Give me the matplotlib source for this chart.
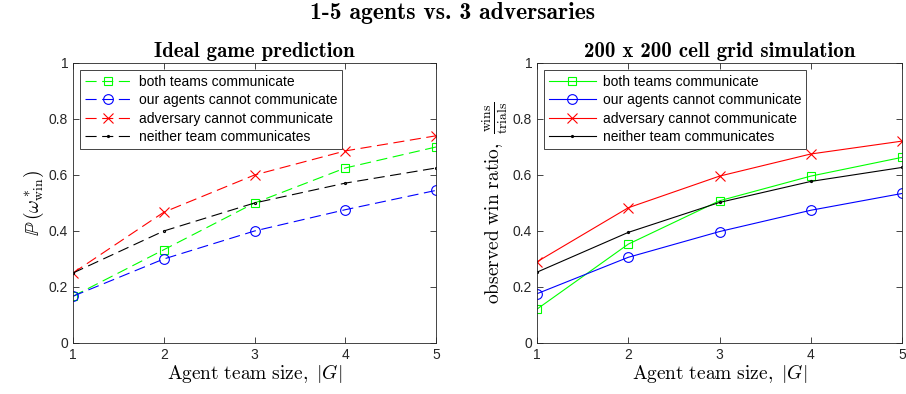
import os
import matplotlib
matplotlib.use("Agg")
import matplotlib.pyplot as plt
from matplotlib.font_manager import FontProperties

plt.rcParams['mathtext.fontset'] = 'cm'
plt.rcParams['font.family'] = ['Liberation Sans', 'DejaVu Sans']

# bold computer modern for the titles
cmb = os.path.join(matplotlib.get_data_path(), 'fonts', 'ttf', 'cmb10.ttf')

# %% data
team_size = [1, 2, 3, 4, 5]
labels = ['both teams communicate', 'our agents cannot communicate',
          'adversary cannot communicate', 'neither team communicates']

# ideal game prediction
pred_both = [0.167, 0.333, 0.500, 0.625, 0.700]
pred_ours = [0.167, 0.300, 0.400, 0.476, 0.545]
pred_adv = [0.250, 0.467, 0.600, 0.686, 0.740]
pred_neither = [0.250, 0.400, 0.500, 0.571, 0.625]

# grid simulation
sim_both = [0.121, 0.353, 0.508, 0.596, 0.663]
sim_ours = [0.176, 0.306, 0.398, 0.474, 0.534]
sim_adv = [0.290, 0.483, 0.596, 0.675, 0.721]
sim_neither = [0.253, 0.395, 0.502, 0.577, 0.627]

colors = ['#00ff00', '#0000ff', '#ff0000', '#000000']
markers = ['s', 'o', 'x', '.']
msizes = [5.5, 7, 7.5, 3]


def draw(ax, series, dashed, title, ylabel):
    for y, c, m, ms, lab in zip(series, colors, markers, msizes, labels):
        line, = ax.plot(team_size, y, color=c, marker=m, ms=ms, lw=0.8,
                        mfc='none', mew=0.8, label=lab)
        if dashed:
            line.set_dashes((10, 5))
    ax.set_xlim(1, 5)
    ax.set_ylim(0, 1)
    ax.set_xticks(team_size)
    ax.set_yticks([0, 0.2, 0.4, 0.6, 0.8, 1])
    ax.set_yticklabels(['0', '0.2', '0.4', '0.6', '0.8', '1'])
    ax.tick_params(direction='in', top=True, right=True, length=4,
                   labelsize=10, colors='#262626', width=0.6)
    for sp in ax.spines.values():
        sp.set_linewidth(0.6)
        sp.set_color('#262626')
    ax.set_title(title, fontproperties=FontProperties(fname=cmb, size=15), pad=4)
    ax.set_xlabel(r'$\mathrm{Agent\ team\ size,}\ |G|$', fontsize=14, labelpad=0)
    ax.set_ylabel(ylabel, fontsize=14, labelpad=2)
    leg = ax.legend(loc='upper left', fontsize=10, handlelength=3.4,
                    fancybox=False, framealpha=1, edgecolor='#262626',
                    borderpad=0.35, labelspacing=0.32, borderaxespad=0.5,
                    handletextpad=0.5)
    leg.get_frame().set_linewidth(0.6)


fig = plt.figure(figsize=(9.06, 3.94), dpi=100)
ax1 = fig.add_axes([73 / 906, 1 - 343 / 394, 363 / 906, 280 / 394])
ax2 = fig.add_axes([537 / 906, 1 - 343 / 394, 365 / 906, 280 / 394])

draw(ax1, [pred_both, pred_ours, pred_adv, pred_neither], True,
     'Ideal game prediction', r'$\mathbb{P}\,(\omega^*_{\mathrm{win}})$')
draw(ax2, [sim_both, sim_ours, sim_adv, sim_neither], False,
     '200 x 200 cell grid simulation',
     r'$\mathrm{observed\ win\ ratio,}\ \frac{\mathrm{wins}}{\mathrm{trials}}$')

fig.suptitle('1-5 agents vs. 3 adversaries',
             fontproperties=FontProperties(fname=cmb, size=17), y=0.995)

fig.savefig('out.png', dpi=100)
